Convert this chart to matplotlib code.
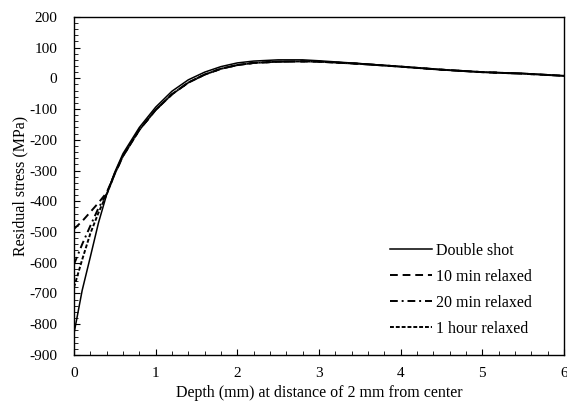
import matplotlib
matplotlib.use("Agg")
import matplotlib.pyplot as plt
from matplotlib.ticker import MultipleLocator

plt.rcParams['font.family'] = ['Liberation Serif', 'DejaVu Serif']
plt.rcParams['axes.unicode_minus'] = False

# depth (mm)
depth = [0, 0.1, 0.2, 0.3, 0.4, 0.5, 0.6, 0.8, 1.0, 1.2, 1.4, 1.6, 1.8, 2.0,
         2.2, 2.5, 2.8, 3.0, 3.5, 4.0, 4.5, 5.0, 5.5, 6.0]

double_shot = [-830, -690, -581, -470, -378, -305, -245, -160, -94, -42, -5, 20, 38, 50,
               56, 60, 60, 57, 48, 38, 28, 20, 16, 8]
relax_10 = [-490, -465, -435, -405, -372, -310, -253, -168, -103, -52, -14, 12, 31, 43,
            50, 54, 55, 54, 47, 38, 28, 20, 15, 8]
relax_20 = [-605, -540, -480, -422, -376, -310, -253, -168, -103, -52, -14, 12, 31, 43,
            50, 54, 55, 54, 47, 38, 28, 20, 15, 8]
relax_60 = [-680, -590, -505, -437, -378, -310, -253, -168, -103, -52, -14, 12, 31, 43,
            50, 54, 55, 54, 47, 38, 28, 20, 15, 8]

fig = plt.figure(figsize=(5.67, 4.05), dpi=100)
ax = fig.add_axes([0.1305, 0.1235, 0.864, 0.835])

ax.plot(depth, double_shot, color='black', lw=1.1, label='Double shot')
ax.plot(depth, relax_10, color='black', lw=1.4, ls=(0, (4, 2.5)), label='10 min relaxed')
ax.plot(depth, relax_20, color='black', lw=1.4, ls=(0, (4, 2, 1, 2)), label='20 min relaxed')
ax.plot(depth, relax_60, color='black', lw=1.4, ls=(0, (2, 1)), label='1 hour relaxed')

ax.set_xlim(0, 6)
ax.set_ylim(-900, 200)
ax.xaxis.set_major_locator(MultipleLocator(1))
ax.xaxis.set_minor_locator(MultipleLocator(0.2))
ax.yaxis.set_major_locator(MultipleLocator(100))
ax.yaxis.set_minor_locator(MultipleLocator(20))
ax.tick_params(which='both', direction='in', top=False, right=False, labelsize=11)
ax.tick_params(which='major', length=4)
ax.tick_params(which='minor', length=3)
ax.tick_params(axis='x', pad=9)
ax.tick_params(axis='y', pad=12)
for s in ax.spines.values():
    s.set_linewidth(1.0)

ax.set_xlabel('Depth (mm) at distance of 2 mm from center', fontsize=11.5, labelpad=3)
ax.set_ylabel('Residual stress (MPa)', fontsize=11.5, labelpad=1)

ax.legend(loc='lower right', frameon=False, fontsize=11.5, handlelength=2.6,
          handletextpad=0.3, labelspacing=0.62, bbox_to_anchor=(0.965, 0.012))

fig.savefig('out.png', dpi=100)
